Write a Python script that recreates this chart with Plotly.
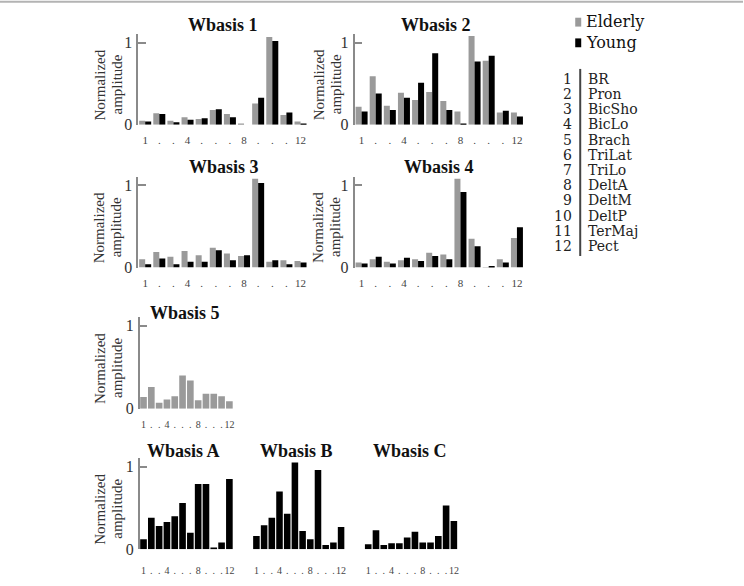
import plotly.graph_objects as go

W, H = 744, 586

categories = list(range(1, 13))
tick_labels_wide = ["1", ".", ".", "4", ".", ".", ".", "8", ".", ".", ".", "12"]
muscles = ["BR", "Pron", "BicSho", "BicLo", "Brach", "TriLat", "TriLo",
           "DeltA", "DeltM", "DeltP", "TerMaj", "Pect"]

elderly1 = [0.05, 0.14, 0.05, 0.09, 0.07, 0.18, 0.13, 0.005, 0.26, 1.07, 0.12, 0.04]
young1 = [0.04, 0.13, 0.03, 0.06, 0.08, 0.19, 0.09, 0.0, 0.33, 1.02, 0.15, 0.012]
elderly2 = [0.22, 0.59, 0.23, 0.39, 0.30, 0.40, 0.29, 0.16, 1.08, 0.78, 0.15, 0.15]
young2 = [0.16, 0.38, 0.18, 0.33, 0.51, 0.87, 0.18, 0.01, 0.77, 0.84, 0.17, 0.10]
elderly3 = [0.10, 0.19, 0.13, 0.20, 0.15, 0.24, 0.17, 0.14, 1.08, 0.07, 0.09, 0.08]
young3 = [0.04, 0.11, 0.04, 0.07, 0.07, 0.21, 0.09, 0.15, 1.03, 0.09, 0.04, 0.06]
elderly4 = [0.06, 0.10, 0.07, 0.09, 0.10, 0.18, 0.16, 1.08, 0.35, 0.003, 0.10, 0.36]
young4 = [0.05, 0.13, 0.05, 0.12, 0.08, 0.14, 0.10, 0.92, 0.26, 0.02, 0.06, 0.49]
basis5 = [0.14, 0.26, 0.07, 0.11, 0.15, 0.40, 0.34, 0.10, 0.18, 0.18, 0.15, 0.09]
basisA = [0.12, 0.38, 0.28, 0.33, 0.40, 0.56, 0.20, 0.79, 0.79, 0.01, 0.08, 0.85]
basisB = [0.16, 0.29, 0.38, 0.70, 0.43, 1.05, 0.22, 0.12, 0.96, 0.05, 0.08, 0.27]
basisC = [0.06, 0.23, 0.05, 0.07, 0.07, 0.14, 0.21, 0.08, 0.08, 0.16, 0.53, 0.34]

GRAY = "#9a9a9a"
BLACK = "#000000"
SERIF = "Liberation Serif"
KEYFONT = "DejaVu Serif"
YMAX = 1.1

# (name, x_left_px, x_right_px, y_zero_px, y_one_px, series, show_yaxis, title, title_x, title_y, ylab_x, standoff)
panels = [
    ("1", 138.3, 308.0, 126.7, 43.3, [(elderly1, GRAY, "Elderly"), (young1, BLACK, "Young")], True,
     "Wbasis 1", 223, 25, 100, 7),
    ("2", 355.0, 524.7, 126.7, 43.3, [(elderly2, GRAY, "Elderly"), (young2, BLACK, "Young")], True,
     "Wbasis 2", 437, 25, 319, 7),
    ("3", 138.3, 308.0, 271.7, 188.3, [(elderly3, GRAY, "Elderly"), (young3, BLACK, "Young")], True,
     "Wbasis 3", 224, 170, 100, 7),
    ("4", 355.0, 524.7, 271.7, 188.3, [(elderly4, GRAY, "Elderly"), (young4, BLACK, "Young")], True,
     "Wbasis 4", 440, 170, 319, 7),
    ("5", 139.8, 233.6, 415.0, 330.7, [(basis5, GRAY, "Elderly")], True,
     "Wbasis 5", 185, 318, 100, 8),
    ("A", 139.8, 233.6, 557.7, 474.0, [(basisA, BLACK, "Young")], True,
     "Wbasis A", 184, 458, 100, 14),
    ("B", 252.9, 345.4, 557.7, 474.0, [(basisB, BLACK, "Young")], False,
     "Wbasis B", 297, 458, None, 14),
    ("C", 364.8, 458.4, 557.7, 474.0, [(basisC, BLACK, "Young")], False,
     "Wbasis C", 411, 458, None, 14),
]

fig = go.Figure()
annotations = []
shapes = []


def px(x):
    return x / W


def py(y):
    return 1 - y / H


for i, (name, xl, xr, y0, y1, series, show_y, title, tx, ty, ylx, sto) in enumerate(panels):
    idx = "" if i == 0 else str(i + 1)
    xa = "x" + idx
    ya = "y" + idx
    for vals, color, lab in series:
        fig.add_trace(go.Bar(
            x=categories, y=vals, marker=dict(color=color, line=dict(width=0)),
            name=lab, showlegend=False, xaxis=xa, yaxis=ya,
        ))
    unit = y0 - y1
    ytop = y0 - YMAX * unit
    two = len(series) == 2
    fig.layout["xaxis" + idx] = dict(
        domain=[px(xl), px(xr)], anchor=ya, range=[0.5, 12.5],
        tickmode="array", tickvals=categories, ticktext=tick_labels_wide,
        showline=False, showgrid=False, zeroline=False, ticks="", tickangle=0,
        tickfont=dict(family=SERIF, size=11 if two else 10, color="#444444"),
        ticklabelstandoff=sto,
    )
    fig.layout["yaxis" + idx] = dict(
        domain=[py(y0), py(ytop)], anchor=xa, range=[0, YMAX],
        tickmode="array", tickvals=[0, 1], ticktext=["0", "1"],
        showgrid=False, zeroline=False, visible=show_y,
        showline=show_y, linecolor="#8a8a8a", linewidth=1.5,
        ticks="inside" if show_y else "", ticklen=8, tickcolor="#8a8a8a", tickwidth=1.5,
        tickfont=dict(family=SERIF, size=16, color="#333333"),
        ticklabelstandoff=1,
    )
    annotations.append(dict(
        x=px(tx), y=py(ty), xref="paper", yref="paper", text="<b>" + title + "</b>",
        showarrow=False, xanchor="center", yanchor="middle",
        font=dict(family=SERIF, size=18, color="#111111"),
    ))
    if ylx is not None:
        ymid = (y0 + y1) / 2 + 1
        for k, word in enumerate(["Normalized", "amplitude"]):
            annotations.append(dict(
                x=px(ylx + 17 * k), y=py(ymid), xref="paper", yref="paper", text=word,
                textangle=-90, showarrow=False, xanchor="center", yanchor="middle",
                font=dict(family=SERIF, size=15, color="#333333"),
            ))

fig.update_layout(barmode="group", bargap=0.15, bargroupgap=0.0)

# legend (drawn manually)
shapes.append(dict(type="rect", xref="paper", yref="paper",
                   x0=px(576), x1=px(582), y0=py(27), y1=py(18),
                   fillcolor=GRAY, line=dict(width=0)))
shapes.append(dict(type="rect", xref="paper", yref="paper",
                   x0=px(576), x1=px(582), y0=py(48), y1=py(39),
                   fillcolor=BLACK, line=dict(width=0)))
for lab, yy in [("Elderly", 22), ("Young", 43)]:
    annotations.append(dict(
        x=px(585), y=py(yy), xref="paper", yref="paper", text=lab, showarrow=False,
        xanchor="left", yanchor="middle", font=dict(family=KEYFONT, size=16, color="#111111"),
    ))

# muscle key
row0, rowstep = 80, 15.45
for k, m in enumerate(muscles):
    yy = row0 + k * rowstep
    annotations.append(dict(
        x=px(575), y=py(yy), xref="paper", yref="paper", text=str(k + 1), showarrow=False,
        xanchor="right", yanchor="middle", font=dict(family=KEYFONT, size=14, color="#222222"),
    ))
    annotations.append(dict(
        x=px(587), y=py(yy), xref="paper", yref="paper", text=m, showarrow=False,
        xanchor="left", yanchor="middle", font=dict(family=KEYFONT, size=14, color="#222222"),
    ))
shapes.append(dict(type="line", xref="paper", yref="paper",
                   x0=px(581), x1=px(581), y0=py(70), y1=py(260),
                   line=dict(color="#444444", width=2)))

# top rule
shapes.append(dict(type="line", xref="paper", yref="paper",
                   x0=0, x1=1, y0=py(1.8), y1=py(1.8),
                   line=dict(color="#b3b3b3", width=2)))

fig.update_layout(
    width=W, height=H, margin=dict(l=0, r=0, t=0, b=0),
    paper_bgcolor="white", plot_bgcolor="white",
    annotations=annotations, shapes=shapes, showlegend=False,
)

fig.write_html("out.html")
